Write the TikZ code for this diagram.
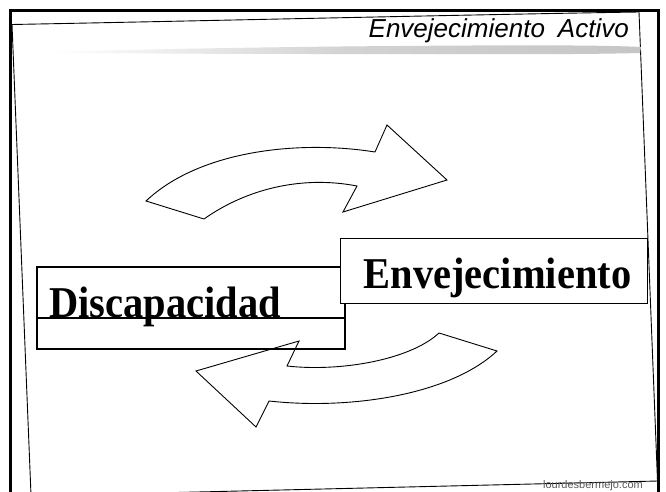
\documentclass[tikz,border=0pt]{standalone}
\usepackage{fontspec}
\setmainfont{Liberation Serif}
\newfontfamily\titlefont{Liberation Sans}
\newfontfamily\footfont{Liberation Sans}
\begin{document}
\begin{tikzpicture}[x=1pt,y=-1pt,
  frame/.style={line width=3pt,black},
  sketch/.style={line width=0.9pt,black},
  dbox/.style={draw=black,line width=2.6pt,rectangle,minimum width=308pt,minimum height=82pt,inner sep=0pt},
  ebox/.style={draw=black,line width=0.9pt,fill=white,rectangle,minimum width=307pt,minimum height=65pt,inner sep=0pt},
  bigword/.style={font=\fontsize{44}{48}\selectfont\bfseries,inner sep=0pt},
  curvearrow/.style={draw=black,line width=0.9pt,line join=miter}
]
\useasboundingbox (0,0) rectangle (666,492);
\fill[white] (0,0) rectangle (666,492);

% outer thick frame
\draw[frame] (10.5,500) -- (10.5,10.5) -- (658,10.5) -- (658,500);

% sketchy inner frame
\draw[sketch] (12,24.5) .. controls (200,21) and (450,15) .. (639,12);
\draw[sketch] (639,12) -- (657.5,481);
\draw[sketch] (12,24.5) -- (31,495);
\draw[sketch] (30,496) -- (658,481);

% gray brush stroke under title
\shade[left color=white, right color=gray!45, middle color=gray!35]
  (48,52) .. controls (120,50) and (250,47) .. (400,46)
  .. controls (520,45) and (600,45) .. (641,47)
  -- (640,53) .. controls (560,55) and (450,54) .. (300,54)
  .. controls (200,54) and (100,53) .. (48,53) -- cycle;

% title
\node[anchor=base east,inner sep=0pt,font=\titlefont\itshape\fontsize{26}{30}\selectfont] (title) at (629,38)
  {Envejecimiento\hspace{0.5em}Activo};

% Discapacidad box
\node[dbox] (disc) at (191,308) {};
\draw[line width=1.4pt] (disc.west |- 0,318) -- (disc.east |- 0,318);
\node[bigword,anchor=base west] (disctext) at (49,317) {\scalebox{0.92}[1]{Discapacidad}};

% Envejecimiento box
\node[ebox] (env) at (493.5,270.5) {};
\node[bigword,anchor=base] (envtext) at (497.5,288) {\scalebox{0.92}[1]{Envejecimiento}};

% upper curved arrow (to the right)
\draw[curvearrow] (146,201) -- (204,219)
  .. controls (245,190) and (300,175) .. (357,186)
  -- (343,212) -- (447,180) -- (387,125) -- (375,152)
  .. controls (300,140) and (200,150) .. (146,201) -- cycle;

% lower curved arrow (to the left)
\draw[curvearrow] (439,333) -- (497,351)
  .. controls (450,395) and (350,410) .. (269,401)
  -- (256,427) -- (196,371) -- (299,341) -- (287,366)
  .. controls (340,372) and (410,360) .. (439,333) -- cycle;

% footer
\node[anchor=base east,inner sep=0pt,text=black!65,font=\footfont\fontsize{11}{13}\selectfont] (foot) at (643,488.5) {lourdesbermejo.com};
\end{tikzpicture}
\end{document}
